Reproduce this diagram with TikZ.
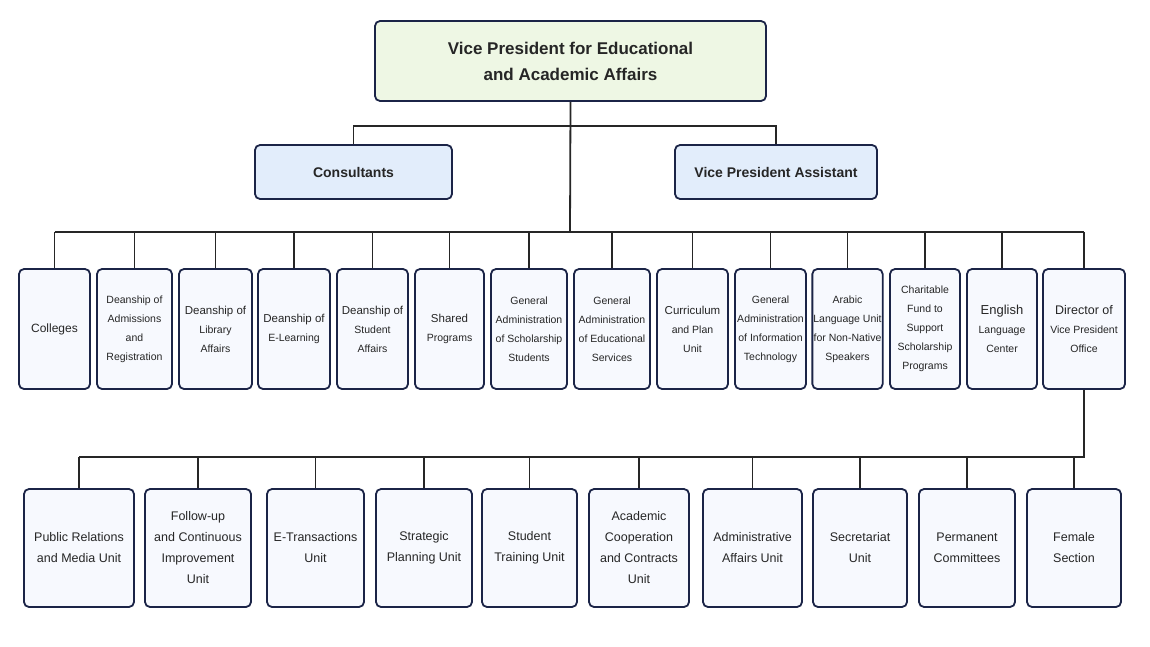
\documentclass[tikz,border=0pt]{standalone}
\usepackage{fontspec}
\setmainfont{Liberation Sans}
\definecolor{navy}{HTML}{1B2447}
\definecolor{topfill}{HTML}{EEF7E4}
\definecolor{midfill}{HTML}{E2EDFB}
\definecolor{lowfill}{HTML}{F7F9FE}
\tikzset{
 box/.style={draw=navy,line width=1.8pt,rounded corners=5pt,align=center,inner sep=1pt,text=black!85},
 r1/.style={box,fill=lowfill,minimum height=120pt,font=\fontsize{10.5}{19}\selectfont},
 r2/.style={box,fill=lowfill,minimum height=118pt,font=\fontsize{12.5}{21}\selectfont},
 conn/.style={line width=1.8pt,draw=black!85}
}
\newcommand{\rone}[4]{\node[r1,minimum width={#3-#2}] (#1) at ({(#2+#3)/2},329) {#4};}
\newcommand{\rtwo}[4]{\node[r2,minimum width={#3-#2}] (#1) at ({(#2+#3)/2},548) {#4};}
\begin{document}
\begin{tikzpicture}[x=1pt,y=-1pt]
\useasboundingbox (0,0) rectangle (1150,647);
\fill[white] (0,0) rectangle (1150,647);
\node[box,fill=topfill,minimum width=391pt,minimum height=80pt,font=\fontsize{17}{26}\selectfont\bfseries] (vp) at (570.5,61) {Vice President for Educational\\and Academic Affairs};
\node[box,fill=midfill,minimum width=197pt,minimum height=54pt,font=\fontsize{14}{18}\selectfont\bfseries] (cons) at (353.5,172) {Consultants};
\node[box,fill=midfill,minimum width=202pt,minimum height=54pt,font=\fontsize{14}{18}\selectfont\bfseries] (vpa) at (776,172) {Vice President Assistant};
\rone{c1}{19}{90}{\fontsize{12}{19}\selectfont Colleges}
\rone{c2}{97}{172}{Deanship of\\Admissions\\and\\Registration}
\rone{c3}{179}{252}{\fontsize{11.5}{19}\selectfont Deanship of\\Library\\Affairs}
\rone{c4}{258}{330}{\fontsize{11.5}{19}\selectfont Deanship of\\E-Learning}
\rone{c5}{337}{408}{\fontsize{11.5}{19}\selectfont Deanship of\\Student\\Affairs}
\rone{c6}{415}{484}{\fontsize{11.5}{19}\selectfont Shared\\Programs}
\rone{c7}{491}{567}{General\\Administration\\of Scholarship\\Students}
\rone{c8}{574}{650}{General\\Administration\\of Educational\\Services}
\rone{c9}{657}{728}{\fontsize{11.5}{19}\selectfont Curriculum\\and Plan\\Unit}
\rone{c10}{735}{806}{General\\Administration\\of Information\\Technology}
\rone{c11}{813}{882}{Arabic\\Language Unit\\for Non-Native\\Speakers}
\rone{c12}{890}{960}{Charitable\\Fund to\\Support\\Scholarship\\Programs}
\rone{c13}{967}{1037}{\fontsize{13}{21}\selectfont English\\Language\\Center}
\rone{c14}{1043}{1125}{\fontsize{12.5}{21}\selectfont Director of\\Vice President\\Office}
\rtwo{d1}{24}{134}{Public Relations\\and Media Unit}
\rtwo{d2}{145}{251}{Follow-up\\and Continuous\\Improvement\\Unit}
\rtwo{d3}{267}{364}{E-Transactions\\Unit}
\rtwo{d4}{376}{472}{Strategic\\Planning Unit}
\rtwo{d5}{482}{577}{Student\\Training Unit}
\rtwo{d6}{589}{689}{Academic\\Cooperation\\and Contracts\\Unit}
\rtwo{d7}{703}{802}{Administrative\\Affairs Unit}
\rtwo{d8}{813}{907}{Secretariat\\Unit}
\rtwo{d9}{919}{1015}{Permanent\\Committees}
\rtwo{d10}{1027}{1121}{Female\\Section}
\coordinate (b0) at (570,126);
\coordinate (b1) at (570,232);
\coordinate (b2) at (1077,457);
\draw[conn] (vp.south) -- (b1);
\draw[conn] (cons.north) |- (b0) -| (vpa.north);
\draw[conn] (c1.north |- b1) -- (c14.north |- b1);
\foreach \n in {c1,c2,c3,c4,c5,c6,c7,c8,c9,c10,c11,c12,c13,c14} \draw[conn] (\n.north |- b1) -- (\n.north);
\draw[conn] (c14.south) -- (c14.south |- b2) -- (d1.north |- b2);
\foreach \n in {d1,d2,d3,d4,d5,d6,d7,d8,d9,d10} \draw[conn] (\n.north |- b2) -- (\n.north);
\end{tikzpicture}
\end{document}
